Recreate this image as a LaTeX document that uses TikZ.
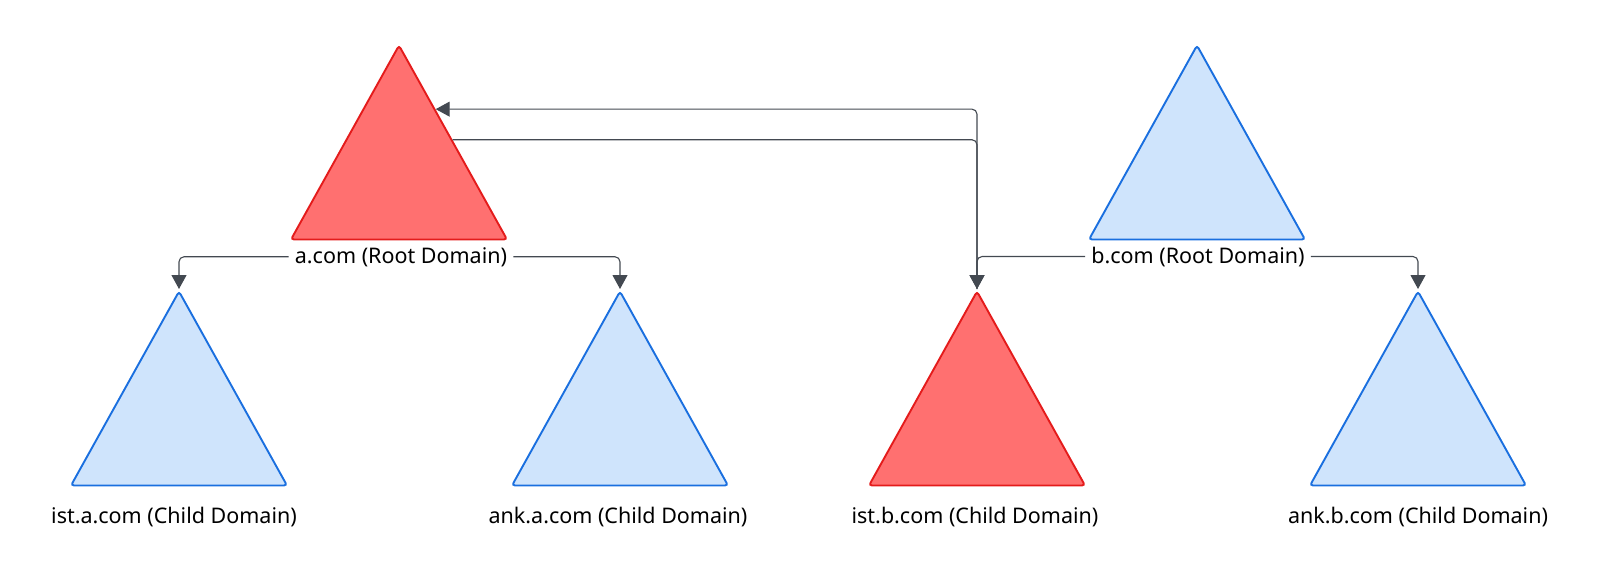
\documentclass[tikz,border=0pt]{standalone}
\usepackage{fontspec}
\setmainfont{Noto Sans}
\usepackage{xcolor}
\usetikzlibrary{calc}
\usetikzlibrary{arrows.meta}
\usetikzlibrary{shapes.geometric}
\definecolor{redfill}{HTML}{FF7070}
\definecolor{redline}{HTML}{E41B1B}
\definecolor{bluefill}{HTML}{CFE4FC}
\definecolor{blueline}{HTML}{1A6FDF}
\definecolor{connline}{HTML}{434951}

\begin{document}
\begin{tikzpicture}[x=1pt,y=-1pt,
	domtri/.style={isosceles triangle,isosceles triangle stretches,shape border rotate=90,
		minimum width=216pt,minimum height=194pt,inner sep=0pt,rounded corners=3pt,line width=1.9pt,anchor=apex},
	redtri/.style={domtri,draw=redline,fill=redfill},
	bluetri/.style={domtri,draw=blueline,fill=bluefill},
	lbl/.style={font=\fontsize{21.5}{24}\selectfont,inner xsep=6pt,inner ysep=2pt,anchor=base},
	conn/.style={-{Triangle[length=14pt,width=15pt]},line width=1.1pt,draw=connline,rounded corners=5pt}]
		\useasboundingbox (0,0) rectangle (1601,573);
		% root domains
		\node[redtri] (acom) at (399,43) {};
		\node[bluetri] (bcom) at (1197,43) {};
		\node[lbl] (acomlbl) at (401,263) {a.com (Root Domain)};
		\node[lbl] (bcomlbl) at (1198,263) {b.com (Root Domain)};
		% child domains
		\node[bluetri] (ista) at (179,289) {};
		\node[bluetri] (anka) at (620,289) {};
		\node[redtri] (istb) at (977,289) {};
		\node[bluetri] (ankb) at (1418,289) {};
		\node[lbl] (istalbl) at (174,523) {ist.a.com (Child Domain)};
		\node[lbl] (ankalbl) at (618,523) {ank.a.com (Child Domain)};
		\node[lbl] (istblbl) at (975,523) {ist.b.com (Child Domain)};
		\node[lbl] (ankblbl) at (1418,523) {ank.b.com (Child Domain)};
		% tree links
		\draw[conn] (acomlbl.west) -| (ista.apex);
		\draw[conn] (acomlbl.east) -| (anka.apex);
		\draw[conn] (bcomlbl.west) -| (istb.apex);
		\draw[conn] (bcomlbl.east) -| (ankb.apex);
		% trust between the two trees
		\coordinate (trustout) at ($(acom.apex)!0.49!(acom.right corner)$);
		\coordinate (trustin) at ($(acom.apex)!0.335!(acom.right corner)$);
		\draw[conn] (trustout) -| (istb.apex);
		\draw[conn] (istb.apex) |- (trustin);
	\end{tikzpicture}
\end{document}
